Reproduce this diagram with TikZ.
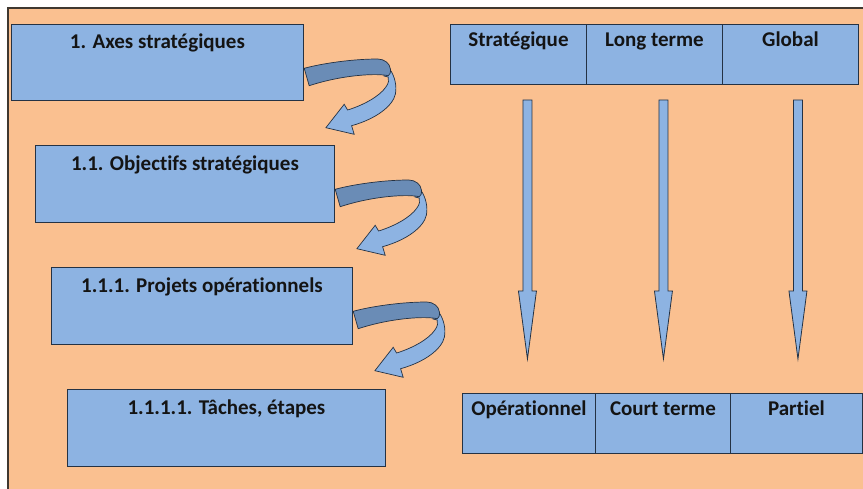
\documentclass[tikz,border=0pt]{standalone}
\usepackage{fontspec}
\setmainfont{Carlito}[Ligatures=CommonOff]
\usetikzlibrary{calc}
\definecolor{bgpeach}{HTML}{FAC090}
\definecolor{boxblue}{HTML}{8DB3E2}
\definecolor{darkrib}{HTML}{6A8CB6}
\definecolor{boxline}{HTML}{243244}
\definecolor{frameline}{HTML}{3F3830}
\definecolor{txt}{HTML}{141414}
\tikzset{
  box/.style={draw=boxline, line width=0.9pt, fill=boxblue, inner sep=0pt, anchor=north west},
  cell/.style={draw=boxline, line width=0.9pt, fill=boxblue, inner sep=0pt, anchor=north west, minimum height=60},
  lbl/.style={anchor=base, inner sep=0pt, text=txt, font=\fontsize{21}{24}\selectfont\bfseries},
  ribdark/.style={fill=darkrib, draw=boxline, line width=0.7pt},
  riblight/.style={fill=boxblue, draw=boxline, line width=0.7pt, line join=miter},
  varrow/.style={fill=boxblue, draw=boxline, line width=0.8pt, line join=miter},
}
\newcommand{\curlarrow}[1]{%
  \begin{scope}[shift={(#1.north east)}]
    \path[riblight] (80,48) -- (86.5,46)
      .. controls (91,53) and (93,62) .. (91.5,70)
      .. controls (89,82) and (72,95) .. (47.7,101.7)
      -- (50.3,110.3) -- (22,103.7) -- (40.3,80.3) -- (43.7,86)
      .. controls (60,81) and (76,72) .. (82,63)
      .. controls (85,59) and (85,56) .. (84.3,53) -- (80,52) -- cycle;
    \path[ribdark] (0.3,44.3) .. controls (20,39) and (50,35) .. (73.7,35)
      .. controls (80,35) and (86,39) .. (86.5,45)
      .. controls (86.8,49) and (86,51) .. (84.3,51.7)
      .. controls (72,49) and (38,51) .. (5.3,61.7) -- cycle;
  \end{scope}}
\newcommand{\vertarrow}[2]{%
  \begin{scope}[shift={(#1.north)}, xshift=#2]
    \path[varrow] (-4.5,-293) -- (4.5,-293) -- (4.5,-102) -- (9,-102) -- (0,-34)
      -- (-9,-102) -- (-4.5,-102) -- cycle;
  \end{scope}}
\begin{document}
\begin{tikzpicture}[x=1pt,y=-1pt]
\useasboundingbox (0,0) rectangle (863,489);
\fill[white] (0,0) rectangle (863,489);
\fill[bgpeach] (8,8) rectangle (863,489);
\draw[frameline, line width=1.6pt] (8,489) -- (8,8) -- (863,8);

% left boxes
\node[box, minimum width=292, minimum height=76] (b1) at (11,24) {};
\node[box, minimum width=299, minimum height=77] (b2) at (35,145) {};
\node[box, minimum width=301, minimum height=77] (b3) at (51,267) {};
\node[box, minimum width=318, minimum height=77] (b4) at (67,389) {};
\path (b1.north) ++(0,24.5) node[lbl] (t1) {1. Axes stratégiques};
\path (b2.north) ++(0,26) node[lbl] (t2) {1.1. Objectifs stratégiques};
\path (b3.north) ++(0,25.5) node[lbl] (t3) {1.1.1. Projets opérationnels};
\path (b4.north) ++(0,25.5) node[lbl] (t4) {1.1.1.1. Tâches, étapes};

\curlarrow{b1}
\curlarrow{b2}
\curlarrow{b3}

% top table
\node[cell, minimum width=136] (s1) at (450,24) {};
\node[cell, minimum width=136] (s2) at (586,24) {};
\node[cell, minimum width=136] (s3) at (722,24) {};
\path (s1.north) ++(0,22.5) node[lbl] {Stratégique};
\path (s2.north) ++(0,22.5) node[lbl] {Long terme};
\path (s3.north) ++(0,22.5) node[lbl] {Global};

% bottom table
\node[cell, minimum width=133] (o1) at (462,393) {};
\node[cell, minimum width=135] (o2) at (595,393) {};
\node[cell, minimum width=132] (o3) at (730,393) {};
\path (o1.north) ++(0,22) node[lbl] {Opérationnel};
\path (o2.north) ++(0,22) node[lbl] {Court terme};
\path (o3.north) ++(0,22) node[lbl] {Partiel};

% vertical arrows
\vertarrow{o1}{-1.5pt}
\vertarrow{o2}{0.5pt}
\vertarrow{o3}{1.5pt}
\end{tikzpicture}
\end{document}
